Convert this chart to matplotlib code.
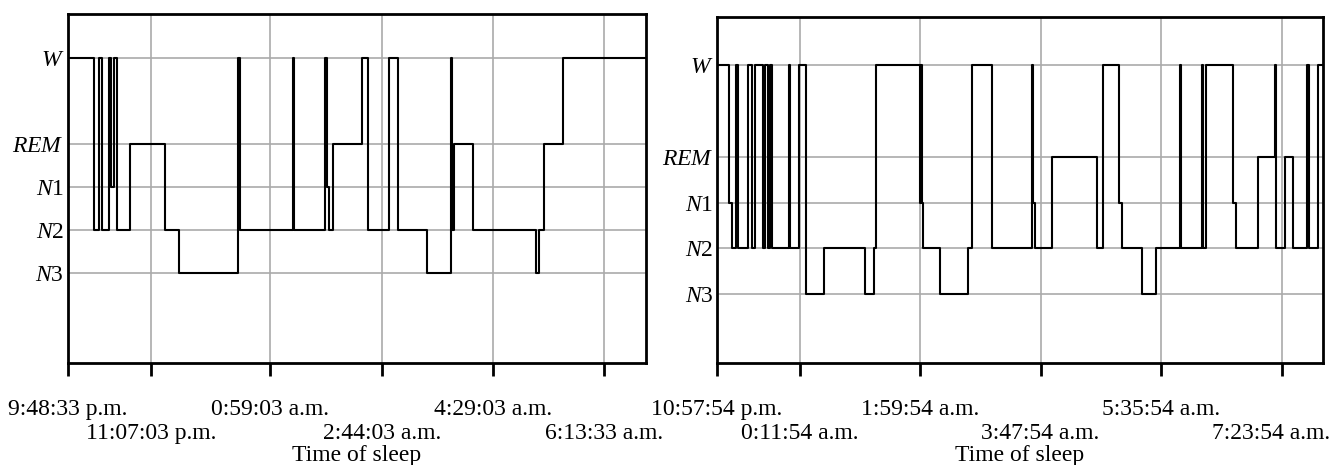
import matplotlib
matplotlib.use("Agg")
import matplotlib.pyplot as plt
import matplotlib.transforms as mtransforms

plt.rcParams["font.family"] = ["Liberation Serif", "DejaVu Serif"]
plt.rcParams["mathtext.fontset"] = "custom"
plt.rcParams["mathtext.it"] = "Liberation Serif:italic"
plt.rcParams["mathtext.rm"] = "Liberation Serif"

# sleep stage codes
W, REM, N1, N2, N3 = 6, 4, 3, 2, 1
stage_ticks = [N3, N2, N1, REM, W]
stage_labels = [r"$N$3", r"$N$2", r"$N$1", r"$REM$", r"$W$"]

# left hypnogram: minutes from 9:48:33 p.m. where each stage starts
left_t = [0, 24.7, 29.4, 32.3, 39.2, 41.1, 43.3, 46.8, 58.6, 91.3, 104.7,
          160.2, 162.3, 211.9, 212.9, 242.0, 244.3, 245.5, 250.0, 277.2,
          282.5, 302.0, 310.7, 337.7, 361.0, 361.9, 363.4, 381.7, 440.3,
          443.4, 448.1, 465.9, 543.7]
left_s = [W, N2, W, N2, W, N1, W, N2, REM, N2, N3,
          W, N2, W, N2, W, N1, N2, REM, W,
          N2, W, N2, N3, W, N2, REM, N2, N3,
          N2, REM, W, W]
left_ticks = [0, 78.5, 190.5, 295.5, 400.5, 505]
left_labels = ["9:48:33 p.m.", "11:07:03 p.m.", "0:59:03 a.m.",
               "2:44:03 a.m.", "4:29:03 a.m.", "6:13:33 a.m."]

# right hypnogram: minutes from 10:57:54 p.m.
right_t = [0, 11.0, 13.0, 17.0, 18.4, 28.0, 31.6, 33.8, 41.2, 43.0, 45.7,
           47.5, 49.3, 64.5, 65.4, 73.5, 80.0, 96.1, 132.9,
           140.4, 142.7, 182.0, 182.8, 183.5, 184.9, 199.8, 225.2, 228.2,
           246.1, 282.0, 283.4, 284.9, 299.9, 340.2, 345.6, 359.8, 362.6,
           380.6, 393.8, 414.9, 415.8, 434.3, 435.5, 438.6, 462.6, 465.1,
           485.1, 500.0, 500.9, 509.0, 516.4, 529.1, 530.5, 539.0, 543.0]
right_s = [W, N1, N2, W, N2, W, N2, W, N2, W, N2,
           W, N2, W, N2, W, N3, N2, N3,
           N2, W, N1, W, N1, N2, N3, N2, W,
           N2, W, N1, N2, REM, N2, W, N1, N2,
           N3, N2, W, N2, W, N2, W, N1, N2,
           REM, W, N2, REM, N2, W, N2, W, W]
right_ticks = [0, 74, 182, 290, 398, 506]
right_labels = ["10:57:54 p.m.", "0:11:54 a.m.", "1:59:54 a.m.",
                "3:47:54 a.m.", "5:35:54 a.m.", "7:23:54 a.m."]

fig = plt.figure(figsize=(13.3, 4.65), dpi=100)
ax1 = fig.add_axes([0.0508, 0.2194, 0.4346, 0.7505])
ax2 = fig.add_axes([0.5391, 0.2194, 0.4556, 0.7441])

panels = [
    (ax1, left_t, left_s, left_ticks, left_labels, (0, 543.7), (-1.1, 7.02)),
    (ax2, right_t, right_s, right_ticks, right_labels, (0, 543.0), (-0.5, 7.05)),
]

for ax, t, s, ticks, labels, xl, yl in panels:
    ax.step(t, s, where="post", color="black", lw=1.5)
    ax.set_xlim(*xl)
    ax.set_ylim(*yl)
    ax.set_yticks(stage_ticks)
    ax.set_yticklabels(stage_labels)
    # two rows of time labels: even ones as major ticks, odd ones as minor
    ax.set_xticks(ticks[::2])
    ax.set_xticklabels(labels[::2])
    ax.set_xticks(ticks[1::2], minor=True)
    ax.set_xticklabels(labels[1::2], minor=True)
    ax.grid(True, which="both", axis="x", color="#aaaaaa", lw=1.2)
    ax.grid(True, axis="y", color="#aaaaaa", lw=1.2)
    ax.set_axisbelow(True)
    ax.tick_params(axis="y", length=0, pad=2.5, labelsize=17)
    ax.tick_params(axis="x", which="major", direction="out", length=9,
                   width=2, pad=17, labelsize=17)
    ax.tick_params(axis="x", which="minor", direction="out", length=9,
                   width=2, pad=34, labelsize=17)
    for sp in ax.spines.values():
        sp.set_linewidth(2)
    ax.set_xlabel("Time of sleep", fontsize=17, labelpad=1)

# last label of right panel sits a little left of its tick, as in the source
last = ax2.get_xticklabels(minor=True)[-1]
last.set_transform(last.get_transform() +
                   mtransforms.ScaledTranslation(-11 / 100, 0, fig.dpi_scale_trans))

fig.savefig("out.png", dpi=100)
